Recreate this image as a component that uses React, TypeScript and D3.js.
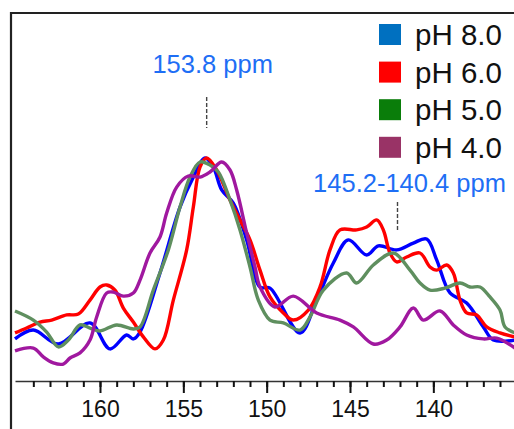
import React, { useEffect, useRef } from 'react'
import * as d3 from 'd3'

// chemical shift (ppm) / normalised intensity
const ph80: [number, number][] = [
  [165.1, 0.185], [164.0, 0.225], [162.5, 0.162], [160.6, 0.257], [159.4, 0.14],
  [158.4, 0.203], [158.0, 0.185], [157.6, 0.216], [156.4, 0.482], [155.2, 0.779],
  [154.4, 0.914], [153.7, 1.0], [153.2, 0.959], [152.7, 0.856], [152.0, 0.797],
  [151.2, 0.631], [150.4, 0.419], [149.8, 0.414], [148.0, 0.212], [147.0, 0.36],
  [146.0, 0.527], [145.1, 0.631], [144.0, 0.563], [143.3, 0.604], [142.2, 0.586],
  [141.2, 0.617], [140.4, 0.635], [139.8, 0.541], [139.0, 0.392], [138.0, 0.347],
  [137.0, 0.239], [136.4, 0.18], [135.1, 0.18]
]
const ph60: [number, number][] = [
  [165.1, 0.212], [164.4, 0.234], [163.6, 0.261], [162.9, 0.27], [162.0, 0.293],
  [161.3, 0.297], [160.6, 0.36], [160.0, 0.419], [159.6, 0.428], [159.1, 0.405],
  [158.6, 0.324], [158.0, 0.261], [157.4, 0.194], [156.7, 0.14], [156.2, 0.18],
  [155.6, 0.36], [154.8, 0.586], [154.4, 0.779], [154.0, 0.959], [153.6, 1.0],
  [153.0, 0.946], [152.2, 0.811], [151.6, 0.721], [151.0, 0.631], [150.4, 0.495],
  [149.8, 0.374], [149.0, 0.302], [148.4, 0.27], [147.5, 0.315], [146.8, 0.419],
  [146.2, 0.586], [145.6, 0.676], [144.6, 0.676], [144.0, 0.689], [143.4, 0.721],
  [143.0, 0.676], [142.6, 0.572], [142.2, 0.532], [141.6, 0.554], [140.8, 0.572],
  [140.2, 0.509], [139.8, 0.495], [139.2, 0.518], [138.8, 0.482], [138.4, 0.36],
  [138.0, 0.302], [137.4, 0.293], [136.8, 0.239], [136.0, 0.212], [135.1, 0.194]
]
const ph50: [number, number][] = [
  [165.1, 0.311], [164.0, 0.27], [163.2, 0.216], [162.5, 0.149], [161.9, 0.18],
  [161.2, 0.248], [160.6, 0.234], [160.0, 0.221], [159.0, 0.248], [158.0, 0.23],
  [157.6, 0.239], [156.8, 0.405], [155.9, 0.586], [155.2, 0.779], [154.6, 0.914],
  [154.0, 0.982], [153.4, 0.968], [152.9, 0.937], [152.2, 0.811], [151.6, 0.676],
  [151.0, 0.509], [150.5, 0.36], [149.8, 0.27], [149.0, 0.257], [148.0, 0.225],
  [147.4, 0.284], [146.6, 0.405], [145.2, 0.482], [144.6, 0.437], [143.6, 0.518],
  [142.4, 0.572], [141.4, 0.495], [140.8, 0.437], [140.2, 0.405], [139.3, 0.414],
  [138.4, 0.437], [137.8, 0.419], [137.2, 0.419], [136.6, 0.374], [136.0, 0.315],
  [135.7, 0.239], [135.1, 0.212]
]
const ph40: [number, number][] = [
  [165.1, 0.131], [164.0, 0.144], [163.4, 0.104], [162.8, 0.077], [162.2, 0.072],
  [161.8, 0.099], [161.2, 0.122], [160.6, 0.18], [160.2, 0.284], [159.6, 0.392],
  [159.2, 0.396], [158.6, 0.378], [158.0, 0.392], [157.6, 0.45], [157.0, 0.572],
  [156.4, 0.644], [156.0, 0.752], [155.4, 0.869], [154.7, 0.919], [154.0, 0.914],
  [153.4, 0.937], [152.7, 0.982], [152.2, 0.946], [151.8, 0.856], [151.2, 0.662],
  [150.7, 0.509], [150.4, 0.419], [149.5, 0.329], [148.4, 0.378], [147.0, 0.302],
  [145.6, 0.27], [144.8, 0.239], [143.6, 0.162], [142.8, 0.18], [142.0, 0.239],
  [141.2, 0.324], [140.6, 0.27], [139.6, 0.311], [138.8, 0.248], [138.0, 0.203],
  [137.0, 0.185], [136.2, 0.189], [135.1, 0.144]
]

const seriesNames = ['pH 8.0', 'pH 6.0', 'pH 5.0', 'pH 4.0']
const seriesData = [ph80, ph60, ph50, ph40]
const lineColors = ['#0000ff', '#ff0000', '#5f8f5f', '#a0189f']
const legendColors = ['#0070c0', '#ff0000', '#0a7d0a', '#993366']

const majorTicks = [160, 155, 150, 145, 140]
const minorTicks = d3.range(136, 165)

const annotations = [
  { label: '153.8 ppm', ppm: 153.6 },
  { label: '145.2-140.4 ppm', ppm: 142.15 }
]

const width = 514, height = 429
const font = '"Liberation Sans", Arial, sans-serif'

const xScale = d3.scaleLinear().domain([165.1, 135.1]).range([15, 515])
const yScale = d3.scaleLinear().domain([0, 1]).range([380, 158])

export default function App () {
  const ref = useRef<SVGSVGElement>(null)

  useEffect(() => {
    const svg = d3.select(ref.current)
    svg.selectAll('*').remove()

    // frame (top + left)
    svg.append('path')
      .attr('d', `M11,${height} V13 H${width}`)
      .attr('fill', 'none')
      .attr('stroke', '#222')
      .attr('stroke-width', 2.2)

    // axis
    const axisG = svg.append('g').attr('transform', 'translate(0,381)')
    axisG.append('g')
      .call(d3.axisBottom(xScale).tickValues(minorTicks).tickSize(6).tickSizeOuter(0).tickFormat(() => ''))
      .call(g => g.select('.domain').attr('stroke', '#333').attr('stroke-width', 1.6))
      .call(g => g.selectAll('.tick line').attr('stroke', '#111').attr('stroke-width', 2))
    axisG.append('g')
      .call(d3.axisBottom(xScale).tickValues(majorTicks).tickSize(12).tickSizeOuter(0).tickPadding(8).tickFormat(d3.format('d')))
      .call(g => g.select('.domain').remove())
      .call(g => g.selectAll('.tick line').attr('stroke', '#111').attr('stroke-width', 2))
      .call(g => g.selectAll('.tick text').attr('font-size', 23).attr('font-family', font).attr('fill', '#111'))

    // spectra
    const line = d3.line<[number, number]>()
      .x(d => xScale(d[0]))
      .y(d => yScale(d[1]))
      .curve(d3.curveCatmullRom.alpha(0.5))

    svg.append('clipPath').attr('id', 'plotClip')
      .append('rect').attr('x', 12).attr('y', 14).attr('width', width - 12).attr('height', 366)

    svg.append('g').attr('clip-path', 'url(#plotClip)')
      .selectAll('path')
      .data(seriesData).enter()
      .append('path')
      .attr('d', d => line(d))
      .attr('fill', 'none')
      .attr('stroke', (d, i) => lineColors[i])
      .attr('stroke-width', 3.4)
      .attr('stroke-linejoin', 'round')

    // annotations
    const annY = [[73, 97, 128], [192, 202, 232]]
    const annDx = [6, 12]
    annotations.forEach((a, i) => {
      const x = xScale(a.ppm)
      svg.append('line')
        .attr('x1', x).attr('x2', x)
        .attr('y1', annY[i][1]).attr('y2', annY[i][2])
        .attr('stroke', '#444')
        .attr('stroke-width', 1.4)
        .attr('stroke-dasharray', '4,2')
      svg.append('text')
        .attr('x', x + annDx[i])
        .attr('y', annY[i][0])
        .attr('text-anchor', 'middle')
        .attr('font-family', font)
        .attr('font-size', 25.5)
        .attr('fill', '#1e6ef5')
        .text(a.label)
    })

    // legend
    const legend = svg.append('g').attr('transform', 'translate(379,24)')
    seriesNames.forEach((name, i) => {
      const g = legend.append('g').attr('transform', `translate(0,${i * 37.6})`)
      g.append('rect').attr('width', 22).attr('height', 21).attr('fill', legendColors[i])
      g.append('text')
        .attr('x', 36).attr('y', 21)
        .attr('font-family', font)
        .attr('font-size', 29.5)
        .attr('fill', '#111')
        .text(name)
    })
  }, [])

  return (
    <svg ref={ref} width={width} height={height}
      style={{ position: 'absolute', left: 0, top: 0, background: '#fff' }} />
  )
}
